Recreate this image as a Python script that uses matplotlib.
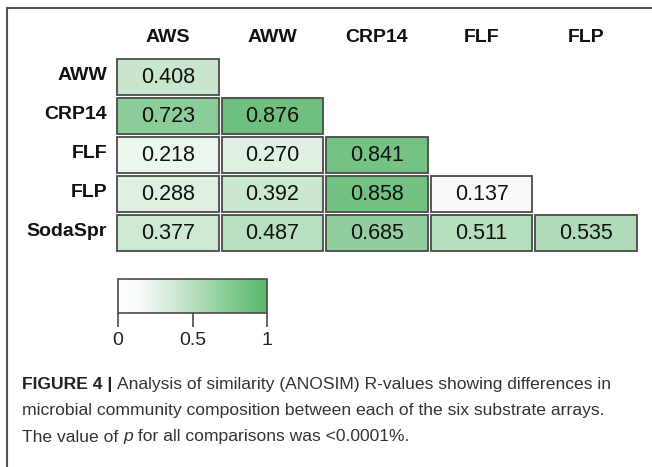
import numpy as np
import matplotlib
matplotlib.use('Agg')
import matplotlib.pyplot as plt
from matplotlib.colors import LinearSegmentedColormap, Normalize
from matplotlib.patches import Rectangle
from matplotlib.lines import Line2D

plt.rcParams['font.family'] = ['Liberation Sans', 'DejaVu Sans']

# ANOSIM R-values, lower triangle (row vs column)
col_labels = ['AWS', 'AWW', 'CRP14', 'FLF', 'FLP']
row_labels = ['AWW', 'CRP14', 'FLF', 'FLP', 'SodaSpr']
r_aww = [0.408]
r_crp14 = [0.723, 0.876]
r_flf = [0.218, 0.270, 0.841]
r_flp = [0.288, 0.392, 0.858, 0.137]
r_sodaspr = [0.377, 0.487, 0.685, 0.511, 0.535]
rows = [r_aww, r_crp14, r_flf, r_flp, r_sodaspr]

cbar_ticks = [0, 0.5, 1]
cbar_ticklabels = ['0', '0.5', '1']

W, H = 652, 467
fig = plt.figure(figsize=(W / 100, H / 100), dpi=100)


def fx(px):
    return px / W


def fy(py):
    return 1 - py / H


cmap = LinearSegmentedColormap.from_list(
    'wg', [(0, '#ffffff'), (0.15, '#f7fbf8'), (1, '#58b66a')])
norm = Normalize(0, 1)

# heatmap area
ax = fig.add_axes([fx(115.5), fy(252.5), fx(638.5) - fx(115.5), fy(57.5) - fy(252.5)])
ax.set_xlim(0, 5)
ax.set_ylim(5, 0)
ax.axis('off')
gx, gy = 0.015, 0.03
for i, vals in enumerate(rows):
    for j, v in enumerate(vals):
        ax.add_patch(Rectangle((j + gx, i + gy), 1 - 2 * gx, 1 - 2 * gy,
                               facecolor=cmap(norm(v)), edgecolor='#4a4a4a', lw=1.3))
        ax.text(j + 0.5, i + 0.52, f'{v:.3f}', ha='center', va='center',
                fontsize=15.5, color='#111111')

for j, lab in enumerate(col_labels):
    ax.text(j + 0.5, -0.5, lab, ha='center', va='center', fontsize=14,
            fontweight='bold', color='#111111')
for i, lab in enumerate(row_labels):
    ax.text(-0.08, i + 0.47, lab, ha='right', va='center', fontsize=14,
            fontweight='bold', color='#111111')

# colorbar
cax = fig.add_axes([fx(118), fy(313), fx(267) - fx(118), fy(279) - fy(313)])
sm = matplotlib.cm.ScalarMappable(norm=norm, cmap=cmap)
cb = fig.colorbar(sm, cax=cax, orientation='horizontal')
cb.outline.set_edgecolor('#4a4a4a')
cb.outline.set_linewidth(1.2)
cb.set_ticks(cbar_ticks)
cb.set_ticklabels(cbar_ticklabels)
cax.tick_params(axis='x', length=10, width=1.2, color='#4a4a4a', labelsize=14,
                labelcolor='#222222', pad=4)

# panel frame (top and left edges)
fig.add_artist(Line2D([fx(7), fx(7)], [fy(8), 0], transform=fig.transFigure,
                      color='#555555', lw=1.5))
fig.add_artist(Line2D([fx(7), 1], [fy(8), fy(8)], transform=fig.transFigure,
                      color='#555555', lw=1.5))

# caption with mixed styles
caption = [
    [('FIGURE 4 | ', 'bold'),
     ('Analysis of similarity (ANOSIM) R-values showing differences in', 'normal')],
    [('microbial community composition between each of the six substrate arrays.', 'normal')],
    [('The value of ', 'normal'), ('p', 'italic'),
     (' for all comparisons was <0.0001%.', 'normal')],
]
line_y = [384, 410, 437]
renderer = fig.canvas.get_renderer()
for runs, yy in zip(caption, line_y):
    x = fx(22)
    for s, style in runs:
        kw = dict(fontsize=12.6, color='#333333', va='center', ha='left')
        if style == 'bold':
            kw['fontweight'] = 'bold'
            kw['color'] = '#222222'
        if style == 'italic':
            kw['fontstyle'] = 'italic'
        t = fig.text(x, fy(yy), s, **kw)
        bb = t.get_window_extent(renderer=renderer)
        x = bb.x1 / W

fig.savefig('out.png', dpi=100)
